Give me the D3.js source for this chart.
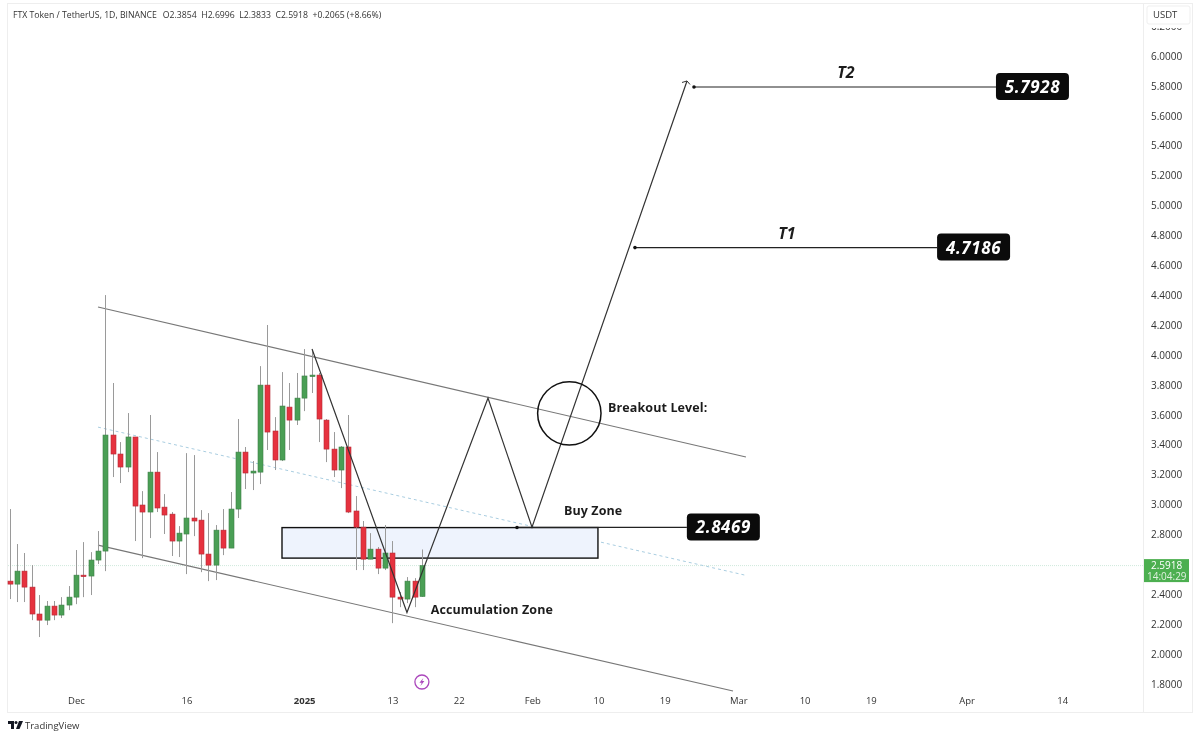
<!DOCTYPE html>
<html><head><meta charset="utf-8">
<script src="https://cdn.jsdelivr.net/npm/d3@7/dist/d3.min.js"></script>
<style>
html,body{margin:0;padding:0;background:#fff}
svg{display:block;filter:blur(0.4px)}
text{font-family:"Open Sans","Noto Sans",sans-serif}
</style></head><body>
<svg id="c" width="1200" height="738"></svg>
<script>
const startDate = "2024-11-22";
const opens  = [2.488,2.468,2.555,2.448,2.268,2.227,2.321,2.261,2.328,2.381,2.528,2.522,2.629,2.689,3.465,3.338,3.251,3.452,2.997,2.950,3.217,2.983,2.936,2.756,2.803,2.910,2.896,2.669,2.595,2.829,2.709,2.970,3.351,3.211,3.217,3.799,3.492,3.298,3.652,3.565,3.712,3.860,3.866,3.565,3.371,3.231,3.385,2.957,2.849,2.635,2.702,2.575,2.676,2.381,2.368,2.488,2.3854];
const highs  = [2.970,2.736,2.676,2.595,2.395,2.355,2.355,2.381,2.455,2.696,2.749,2.682,2.823,4.401,3.813,3.418,3.612,3.452,3.090,3.599,3.351,3.070,2.950,2.856,3.344,3.331,2.963,2.943,2.863,2.970,3.084,3.572,3.385,3.291,3.926,4.201,3.585,3.886,3.813,3.880,4.040,4.027,3.880,3.572,3.485,3.391,3.599,3.057,2.890,2.809,2.716,2.863,2.756,2.415,2.515,2.508,2.6996];
const lows   = [2.368,2.348,2.348,2.227,2.114,2.194,2.227,2.241,2.294,2.334,2.381,2.395,2.602,2.555,3.184,3.144,3.217,2.756,2.642,2.776,2.950,2.803,2.656,2.649,2.535,2.789,2.548,2.488,2.495,2.662,2.709,2.910,3.104,3.097,3.137,3.365,3.231,3.291,3.365,3.532,3.625,3.746,3.418,3.284,3.184,3.110,2.943,2.562,2.562,2.635,2.535,2.562,2.207,2.314,2.341,2.314,2.3833];
const closes = [2.468,2.555,2.448,2.268,2.227,2.321,2.261,2.328,2.381,2.528,2.522,2.629,2.689,3.465,3.338,3.251,3.452,2.990,2.950,3.217,2.977,2.930,2.756,2.809,2.910,2.890,2.669,2.595,2.829,2.709,2.970,3.351,3.211,3.224,3.799,3.485,3.298,3.659,3.565,3.712,3.860,3.866,3.572,3.371,3.231,3.385,2.950,2.849,2.635,2.702,2.575,2.676,2.381,2.368,2.488,2.381,2.5918];

// 2.6000 is hidden behind the last-price tag in the reference
const priceTicks = [1.8,2.0,2.2,2.4,2.8,3.0,3.2,3.4,3.6,3.8,4.0,4.2,4.4,4.6,4.8,5.0,5.2,5.4,5.6,5.8,6.0,6.2];
const timeTicks = ["2024-12-01","2024-12-16","2025-01-01","2025-01-13","2025-01-22","2025-02-01","2025-02-10","2025-02-19","2025-03-01","2025-03-10","2025-03-19","2025-04-01","2025-04-14"];
const timeLabels = ["Dec","16","2025","13","22","Feb","10","19","Mar","10","19","Apr","14"];

// annotations: [days since 1 Dec 2024, price]
const channelTop = [[2.99,4.321],[91.03,3.318]];
const channelMid = [[2.99,3.518],[90.9,2.528]];
const channelLow = [[2.99,2.729],[89.27,1.753]];
const buyZone = [[27.99,2.846],[70.92,2.642]];
const projection = [[32.07,4.040],[44.97,2.278],[55.98,3.712],[61.96,2.849],[83.02,5.833]];
const breakoutCentre = [67.03,3.610];
const targets = [
  {name:"T2",value:5.7928,from:83.97,to:125.0,nameAt:104.6},
  {name:"T1",value:4.7186,from:75.95,to:117.0,nameAt:96.6},
  {name:"",value:2.8469,from:59.92,to:83.0,nameAt:0}
];
const notes = [
  {text:"Breakout Level:",day:72.3,price:3.62},
  {text:"Buy Zone",day:66.3,price:2.93},
  {text:"Accumulation Zone",day:48.2,price:2.27}
];
const lastPrice = 2.5918, header = "FTX Token / TetherUS, 1D, BINANCE", ohlc = ["O2.3854","H2.6996","L2.3833","C2.5918","+0.2065 (+8.66%)"];

const UP="#4a9f55", DOWN="#e6323f", INK="#1c1c1c";
const svg = d3.select("#c");
const x = d3.scaleUtc().domain([new Date("2024-12-01"),new Date("2025-04-14")]).range([76,1062.2]);
const y = d3.scaleLinear().domain([1.8,6.0]).range([684,56]);
const dx = d => x(new Date(Date.UTC(2024,11,1)+d*864e5));
const line = d3.line().x(p=>dx(p[0])).y(p=>y(p[1]));

// frame
const frame = svg.append("g").attr("fill","none").attr("stroke","#eeeeee");
frame.append("rect").attr("x",7.5).attr("y",3.5).attr("width",1185).attr("height",709);
frame.append("line").attr("x1",1143.5).attr("x2",1143.5).attr("y1",3.5).attr("y2",712.5);

// last price line
svg.append("line").attr("x1",8).attr("x2",1143).attr("y1",y(lastPrice)).attr("y2",y(lastPrice))
  .attr("stroke","#cfe9dc").attr("stroke-dasharray","1 1");

// channel
svg.selectAll(".ch").data([channelTop,channelLow]).join("path").attr("class","ch")
  .attr("d",line).attr("fill","none").attr("stroke","#777").attr("stroke-width",1.15);
svg.append("path").attr("d",line(channelMid)).attr("fill","none").attr("stroke","#a9cde0").attr("stroke-dasharray","3 3");

// buy zone
svg.append("rect").attr("x",dx(buyZone[0][0])).attr("y",y(buyZone[0][1]))
  .attr("width",dx(buyZone[1][0])-dx(buyZone[0][0])).attr("height",y(buyZone[1][1])-y(buyZone[0][1]))
  .attr("fill","#eef3fd").attr("stroke","#111").attr("stroke-width",1.4);

// candles
const candles = opens.map((o,i)=>({o,h:highs[i],l:lows[i],c:closes[i],t:new Date(Date.parse(startDate)+i*864e5)}));
const cw = 5;
const g = svg.append("g");
g.selectAll(".w").data(candles).join("line").attr("class","w")
  .attr("x1",d=>Math.round(x(d.t))+.5).attr("x2",d=>Math.round(x(d.t))+.5)
  .attr("y1",d=>y(d.h)).attr("y2",d=>y(d.l)).attr("stroke","#9a9a9a");
g.selectAll(".b").data(candles).join("rect").attr("class","b")
  .attr("x",d=>Math.round(x(d.t))-2).attr("width",cw)
  .attr("y",d=>y(Math.max(d.o,d.c))).attr("height",d=>Math.max(1.5,Math.abs(y(d.o)-y(d.c))))
  .attr("fill",d=>d.c>=d.o?UP:DOWN).attr("stroke",d=>d.c>=d.o?"#3d7f47":"#b52a35").attr("stroke-width",.6);

// projection path with arrow
svg.append("path").attr("d",line(projection)).attr("fill","none").attr("stroke","#333").attr("stroke-width",1.2);
const tip = projection[projection.length-1];
const tx = dx(tip[0]), ty = y(tip[1]);
svg.append("path").attr("d",`M${tx-5},${ty+1.5}L${tx},${ty}L${tx+3},${ty+3.5}`).attr("fill","none").attr("stroke","#333");

// breakout circle
svg.append("circle").attr("cx",dx(breakoutCentre[0])).attr("cy",y(breakoutCentre[1])).attr("r",31.7)
  .attr("fill","none").attr("stroke","#111").attr("stroke-width",1.5);

// targets
targets.forEach(t=>{
  const yy=y(t.value), a=dx(t.from), b=dx(t.to);
  svg.append("line").attr("x1",a).attr("x2",b).attr("y1",yy).attr("y2",yy).attr("stroke","#222").attr("stroke-width",1.2);
  svg.append("circle").attr("cx",a).attr("cy",yy).attr("r",1.8).attr("fill","#111");
  svg.append("rect").attr("x",b).attr("y",yy-14).attr("width",73).attr("height",27).attr("rx",4).attr("fill","#0b0b0b");
  svg.append("text").attr("x",b+36.5).attr("y",yy+6).attr("text-anchor","middle").attr("fill","#fff")
    .attr("font-size",17).attr("font-weight",700).attr("font-style","italic").style("letter-spacing","0.6px").text(t.value.toFixed(4));
  if(t.name) svg.append("text").attr("x",dx(t.nameAt)).attr("y",yy-9).attr("text-anchor","middle").attr("fill",INK)
    .attr("font-size",16).attr("font-weight",700).attr("font-style","italic").text(t.name);
});
notes.forEach(n=>{
  svg.append("text").attr("x",dx(n.day)).attr("y",y(n.price)).attr("fill",INK).attr("font-size",12.5)
    .attr("font-weight",700).style("letter-spacing","0.1px").text(n.text);
});

// lightning marker
const mx=x(new Date("2025-01-17")), my=682;
svg.append("circle").attr("cx",mx).attr("cy",my).attr("r",7).attr("fill","#fff").attr("stroke","#ab47bc").attr("stroke-width",1.3);
svg.append("path").attr("d",`M${mx+1.5},${my-4}L${mx-2.5},${my+.8}L${mx-.2},${my+.8}L${mx-1.5},${my+4}L${mx+2.5},${my-1}L${mx+.2},${my-1}Z`).attr("fill","#ab47bc");

// axes
const ay = svg.append("g").attr("transform","translate(1147,0)")
  .call(d3.axisRight(y).tickValues(priceTicks).tickSize(0).tickPadding(4).tickFormat(d3.format(".4f")));
ay.select(".domain").remove();
ay.selectAll("text").attr("font-size",10).attr("fill","#333").style("font-family",'"Open Sans",sans-serif');
const ax = svg.append("g").attr("transform","translate(0,694)")
  .call(d3.axisBottom(x).tickValues(timeTicks.map(d=>new Date(d))).tickSize(0).tickPadding(3).tickFormat((d,i)=>timeLabels[i]));
ax.select(".domain").remove();
ax.selectAll("text").attr("font-size",9.5).attr("fill","#333").style("font-family",'"Open Sans",sans-serif')
  .attr("font-weight",(d,i)=>timeLabels[i]==="2025"?700:400);

// USDT box
svg.append("rect").attr("x",1145).attr("y",5).attr("width",46).attr("height",23).attr("fill","#fff");
svg.append("rect").attr("x",1147).attr("y",6).attr("width",43).attr("height",18).attr("rx",2).attr("fill","#fff").attr("stroke","#efefef");
svg.append("text").attr("x",1153).attr("y",18).attr("font-size",9.5).attr("fill","#333").text("USDT");

// last price tag
svg.append("rect").attr("x",1144).attr("y",y(lastPrice)-6.5).attr("width",45).attr("height",23).attr("fill","#4caf50");
svg.append("text").attr("x",1151).attr("y",y(lastPrice)+3.5).attr("font-size",10).attr("fill","#fff").text(lastPrice.toFixed(4));
svg.append("text").attr("x",1147).attr("y",y(lastPrice)+14.5).attr("font-size",10).attr("fill","#dff0df").text("14:04:29");

// header
const h = svg.append("text").attr("x",13).attr("y",18).attr("font-size",8.7).attr("fill","#333");
h.append("tspan").text(header);
ohlc.forEach((s,i)=>h.append("tspan").attr("dx",i?4.5:6).text(s));

// logo
const lg = svg.append("g").attr("transform","translate(8,721)").attr("fill","#131722");
lg.append("path").attr("d","M0,0H6V8H3V3H0Z");
lg.append("circle").attr("cx",8).attr("cy",1.5).attr("r",1.5);
lg.append("path").attr("d","M11,0H15L11.5,8H8Z");
svg.append("text").attr("x",25).attr("y",729).attr("font-size",9.5).attr("fill","#333").text("TradingView");
</script></body></html>
